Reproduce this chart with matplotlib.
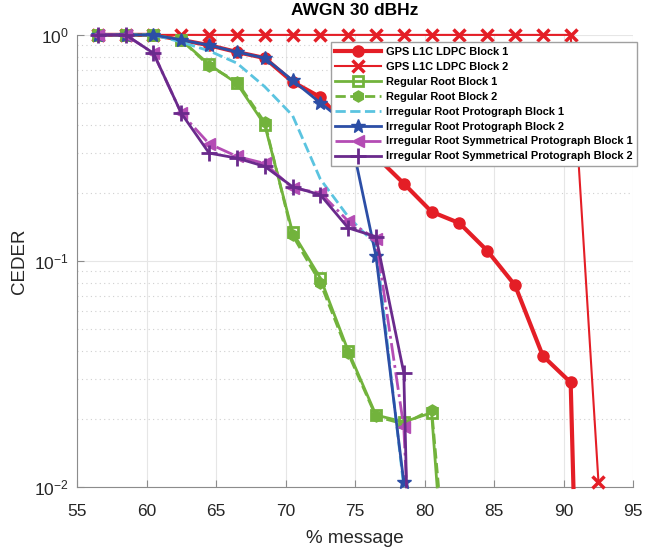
import matplotlib
matplotlib.use("Agg")
import matplotlib.pyplot as plt
from matplotlib.ticker import LogLocator, NullFormatter

plt.rcParams["font.family"] = ["Liberation Sans", "DejaVu Sans"]

# % message positions (all curves share the same 2-unit grid)
x_grid = [56.5, 58.5, 60.5, 62.5, 64.5, 66.5, 68.5, 70.5, 72.5, 74.5,
          76.5, 78.5, 80.5, 82.5, 84.5, 86.5, 88.5, 90.5]

gps1_x = x_grid + [90.7]
gps1_y = [1.0, 1.0, 1.0, 0.95, 0.90, 0.84, 0.79, 0.62, 0.53, 0.39,
          0.29, 0.22, 0.165, 0.147, 0.111, 0.078, 0.038, 0.029, 0.01]

gps2_x = x_grid + [92.5]
gps2_y = [1.0] * 18 + [0.0105]

reg1_x = x_grid[:13] + [80.9]
reg1_y = [1.0, 1.0, 1.0, 0.95, 0.74, 0.61, 0.40, 0.134, 0.084, 0.040,
          0.0208, 0.0194, 0.0213, 0.01]

reg2_x = x_grid[:13] + [81.0]
reg2_y = [1.0, 1.0, 1.0, 0.95, 0.73, 0.62, 0.41, 0.130, 0.080, 0.039,
          0.0205, 0.0190, 0.0220, 0.01]

irr1_x = x_grid[:12]
irr1_y = [1.0, 1.0, 1.0, 0.93, 0.85, 0.75, 0.59, 0.44, 0.23, 0.157,
          0.118, 0.01]

irr2_x = x_grid[:12]
irr2_y = [1.0, 1.0, 1.0, 0.95, 0.90, 0.84, 0.79, 0.63, 0.50, 0.40,
          0.105, 0.0105]

sym1_x = x_grid[:12] + [78.7]
sym1_y = [1.0, 1.0, 0.83, 0.45, 0.33, 0.29, 0.27, 0.21, 0.20, 0.15,
          0.125, 0.0184, 0.01]

sym2_x = x_grid[:12] + [78.7]
sym2_y = [1.0, 1.0, 0.83, 0.45, 0.30, 0.285, 0.262, 0.213, 0.196, 0.14,
          0.128, 0.032, 0.01]

labels = [
    "GPS L1C LDPC Block 1",
    "GPS L1C LDPC Block 2",
    "Regular Root Block 1",
    "Regular Root Block 2",
    "Irregular Root Protograph Block 1",
    "Irregular Root Protograph Block 2",
    "Irregular Root Symmetrical Protograph Block 1",
    "Irregular Root Symmetrical Protograph Block 2",
]

red = "#E41E26"
green = "#72B33C"
cyan = "#5BC4E0"
blue = "#2C4EA6"
magenta = "#B44CB4"
purple = "#6A2A8C"

fig, ax = plt.subplots(figsize=(6.61, 5.54), dpi=100)
fig.subplots_adjust(left=0.1165, right=0.958, bottom=0.121, top=0.937)

kw = dict(clip_on=False, zorder=3)
ax.plot(gps1_x, gps1_y, "-o", color=red, lw=3, ms=8, markevery=list(range(18)),
        label=labels[0], **kw)
ax.plot(gps2_x, gps2_y, "-x", color=red, lw=1.5, ms=8, mew=2.5,
        label=labels[1], **kw)
ax.plot(reg1_x, reg1_y, "-s", color=green, lw=2, ms=7, mfc="none", mew=2,
        markevery=list(range(13)), label=labels[2], **kw)
ax.plot(reg2_x, reg2_y, "--h", color=green, lw=2, ms=8,
        markevery=list(range(13)), label=labels[3], **kw)
ax.plot(irr1_x, irr1_y, "--", color=cyan, lw=2, label=labels[4], **kw)
ax.plot(irr2_x, irr2_y, "-*", color=blue, lw=2, ms=10, label=labels[5], **kw)
ax.plot(sym1_x, sym1_y, "-.<", color=magenta, lw=2, ms=8,
        markevery=list(range(12)), label=labels[6], **kw)
ax.plot(sym2_x, sym2_y, "-+", color=purple, lw=2, ms=11, mew=2,
        markevery=list(range(12)), label=labels[7], **kw)

ax.set_yscale("log")
ax.set_xlim(55, 95)
ax.set_ylim(0.01, 1)
ax.set_xticks(range(55, 96, 5))
ax.yaxis.set_minor_locator(LogLocator(base=10, subs=range(2, 10)))
ax.yaxis.set_minor_formatter(NullFormatter())

ax.grid(True, which="major", color="#e6e6e6", lw=0.8)
ax.grid(True, which="minor", axis="y", color="#d0d0d0", lw=0.8, ls=(0, (1, 3)))
ax.set_axisbelow(True)

for side in ("top", "right"):
    ax.spines[side].set_visible(False)
for side in ("left", "bottom"):
    ax.spines[side].set_color("#8c8c8c")
ax.tick_params(direction="in", colors="#8c8c8c", labelcolor="#262626",
               labelsize=12.5, length=5)
ax.tick_params(axis="x", pad=12)
ax.tick_params(axis="y", pad=6)
ax.tick_params(which="minor", length=0)

ax.set_xlabel("% message", fontsize=13.5, color="#262626", labelpad=8)
ax.set_ylabel("CEDER", fontsize=13.5, color="#262626", labelpad=4)
ax.set_title("AWGN 30 dBHz", fontsize=12.5, fontweight="bold", pad=14)

leg = ax.legend(loc="upper right", bbox_to_anchor=(642 / 661, 1 - 37 / 554),
                bbox_transform=fig.transFigure, prop={"size": 7.9, "weight": "bold"},
                handlelength=4.2, handletextpad=0.4, labelspacing=0.45,
                borderpad=0.4, fancybox=False, edgecolor="#a0a0a0",
                framealpha=1)
leg.set_zorder(5)
leg.get_frame().set_linewidth(1.0)

fig.savefig("out.png", dpi=100)
